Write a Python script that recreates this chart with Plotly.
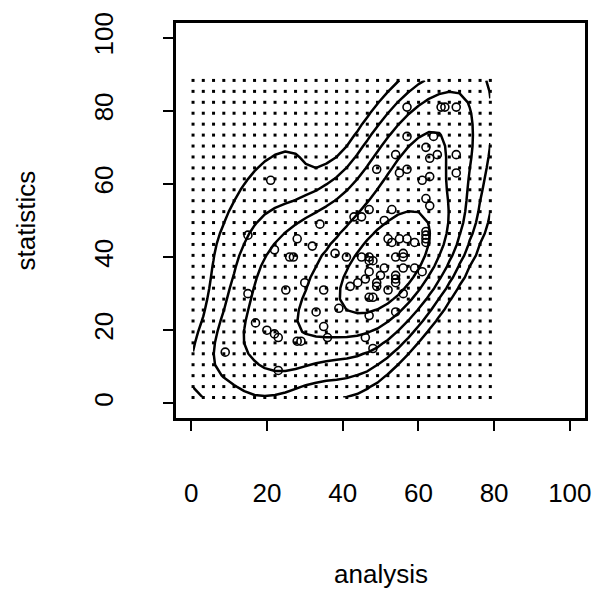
import numpy as np
import plotly.graph_objects as go

# Exam marks: analysis vs statistics (88 students)
analysis = [67, 70, 66, 70, 70, 64, 65, 62, 62, 62,
            63, 62, 55, 56, 57, 54, 53, 55, 57, 63,
            62, 49, 63, 62, 47, 59, 61, 57, 50, 57,
            52, 59, 61, 54, 45, 54, 49, 56, 49, 54,
            53, 51, 46, 41, 38, 52, 48, 56, 54, 42,
            54, 43, 39, 15, 28, 21, 51, 47, 34, 32,
            22, 44, 47, 56, 48, 22, 30, 27, 35, 47,
            29, 47, 15, 46, 25, 23, 45, 26, 48, 33,
            47, 17, 23, 28, 36, 35, 20, 9]
statistics = [81, 81, 81, 68, 63, 73, 68, 56, 70, 45,
              54, 44, 63, 37, 73, 40, 53, 45, 45, 62,
              46, 64, 67, 47, 53, 44, 36, 81, 35, 64,
              45, 37, 61, 68, 51, 35, 32, 40, 33, 25,
              44, 37, 34, 40, 41, 31, 39, 41, 33, 32,
              34, 51, 26, 46, 45, 61, 50, 24, 49, 43,
              42, 33, 29, 30, 29, 19, 33, 40, 31, 36,
              17, 39, 30, 18, 31, 9, 40, 40, 15, 25,
              40, 22, 18, 17, 18, 21, 20, 14]

axis_ticks = [0, 20, 40, 60, 80, 100]

# Evaluation grid, kernel scale and contour levels (fractions of the peak)
grid_x = np.linspace(0.5, 79.0, 30)
grid_y = np.linspace(1.6, 88.3, 30)
kernel_scale = 0.55
level_fractions = [0.03, 0.08, 0.18, 0.36, 0.62]

# Gaussian kernel density estimate with a bandwidth matrix proportional
# to the sample covariance
ax = np.asarray(analysis, float)
st = np.asarray(statistics, float)
H = np.cov(np.vstack([ax, st])) * kernel_scale ** 2
Hi = np.linalg.inv(H)
gx, gy = np.meshgrid(grid_x, grid_y)
dx = gx[..., None] - ax
dy = gy[..., None] - st
q = Hi[0, 0] * dx ** 2 + 2 * Hi[0, 1] * dx * dy + Hi[1, 1] * dy ** 2
density = np.exp(-0.5 * q).mean(-1) / (2 * np.pi * np.sqrt(np.linalg.det(H)))
peak = density.max()

fig = go.Figure()
fig.add_trace(go.Scatter(
    x=gx.ravel(), y=gy.ravel(), mode="markers",
    marker=dict(symbol="square", size=3, color="black"),
    hoverinfo="skip", showlegend=False))
for frac in level_fractions:
    lev = frac * peak
    fig.add_trace(go.Contour(
        x=grid_x, y=grid_y, z=density, autocontour=False,
        contours=dict(start=lev, end=lev, size=lev, coloring="none", showlabels=False),
        line=dict(color="black", width=2.5, smoothing=0),
        showscale=False, hoverinfo="skip", showlegend=False))
fig.add_trace(go.Scatter(
    x=analysis, y=statistics, mode="markers",
    marker=dict(symbol="circle-open", size=8, color="black",
                line=dict(width=1.6, color="black")),
    showlegend=False))

font = dict(family="Liberation Sans, Arial, sans-serif", size=26, color="black")
axis_common = dict(range=[-4, 104], tickvals=axis_ticks, ticks="outside",
                   ticklen=10, tickwidth=2, tickcolor="black",
                   showline=True, linewidth=2.5, linecolor="black",
                   mirror=True, showgrid=False, zeroline=False,
                   tickfont=font)
fig.update_layout(
    width=607, height=591,
    margin=dict(l=176, r=22, t=18, b=173),
    paper_bgcolor="white", plot_bgcolor="white",
    xaxis=dict(**axis_common, ticklabelstandoff=40),
    yaxis=dict(**axis_common, tickangle=-90, ticklabelstandoff=40),
    annotations=[
        dict(text="analysis", xref="paper", yref="paper", x=0.5, y=-0.395,
             xanchor="center", yanchor="middle", showarrow=False, font=font),
        dict(text="statistics", xref="paper", yref="paper", x=-0.367, y=0.5,
             xanchor="center", yanchor="middle", textangle=-90,
             showarrow=False, font=font),
    ],
)
fig.write_html("out.html")
